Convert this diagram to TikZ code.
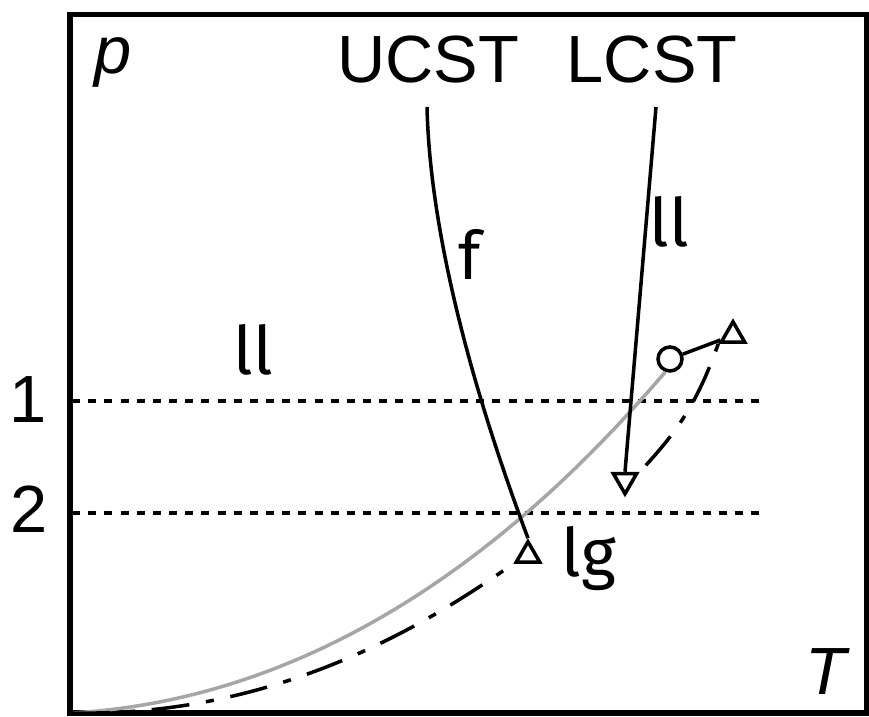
\documentclass[tikz,border=0pt]{standalone}
\usepackage{fontspec}
\setmainfont{Liberation Sans}
\newfontfamily\firafont{Fira Sans}
\usetikzlibrary{positioning,shapes.geometric}

\begin{document}
\begin{tikzpicture}[
		lab/.style={font=\fontsize{19}{23}\selectfont, inner sep=0pt, anchor=base},
		var/.style={font=\fontsize{19}{23}\selectfont\itshape, inner sep=0pt, anchor=base},
		phase/.style={font=\firafont\fontsize{19}{23}\selectfont, inner sep=0pt, anchor=base},
		tri/.style={regular polygon, regular polygon sides=3, draw, line width=1pt, minimum size=0.27cm, inner sep=0pt},
		crit/.style={circle, draw, line width=1pt, minimum size=0.24cm, inner sep=0pt},
		curve/.style={line width=1pt},
		dashdot/.style={line width=1pt, dash pattern=on 10.8pt off 4.8pt on 2.3pt off 4.8pt},
		dotdash/.style={line width=1pt, dash pattern=on 2.3pt off 4.8pt on 10.8pt off 4.8pt},
		level/.style={line width=1.1pt, dash pattern=on 2.3pt off 2.3pt}
	]
	
	\useasboundingbox (0,0) rectangle (8.69,7.17);
	\draw[line width=1.6pt] (0.70,0.04) rectangle (8.665,7.025);
	
	% labels
	\node[var] (p) at (1.13,6.43) {p};
	\node[var] (T) at (8.26,0.22) {T};
	\node[lab] (ucsttext) at (4.28,6.34) {UCST};
	\node[lab] (lcsttext) at (6.52,6.34) {LCST};
	\node[lab] (lvl1) at (0.285,2.94) {1};
	\node[lab] (lvl2) at (0.29,1.84) {2};
	\node[phase] (ll1) at (2.53,3.42) {ll};
	\node[phase] (f) at (4.70,4.37) {f};
	\node[phase] (ll2) at (6.69,4.70) {ll};
	\node[phase] (lg) at (5.89,1.40) {lg};
	
	% points
	\coordinate (O) at (0.72,0.04);
	\coordinate (ucst) at (4.27,6.10);
	\coordinate (lcst) at (6.56,6.10);
	\coordinate (l1a) at (0.72,3.16);
	\coordinate (l1b) at (7.63,3.16);
	\coordinate (l2a) at (0.72,2.04);
	\coordinate (l2b) at (7.63,2.04);
	\node[crit] (cp) at (6.70,3.58) {};
	\node[tri] (ucep) at (5.28,1.617) {};
	\node[tri, regular polygon rotate=180] (lcep) at (6.25,2.367) {};
	\node[tri] (ep) at (7.33,3.817) {};
	
	% pressures
	\draw[level] (l1a) -- (l1b);
	\draw[level] (l2a) -- (l2b);
	
	% curves
	\draw[curve, gray!70] (O) .. controls (3.5,0.2) and (5.5,2.1) .. (cp.250);
	\draw[dashdot] (O) .. controls (2.8,0.0) and (4.3,0.95) .. (ucep.corner 2);
	\draw[curve] (ucst) .. controls (4.30,4.8) and (4.75,3.2) .. (ucep.corner 1);
	\draw[curve] (lcst) -- (lcep.north);
	\draw[dotdash] (ep.corner 2) to[bend left=12] (lcep.corner 2);
	\draw[curve] (cp) -- (ep);
	
\end{tikzpicture}
\end{document}
